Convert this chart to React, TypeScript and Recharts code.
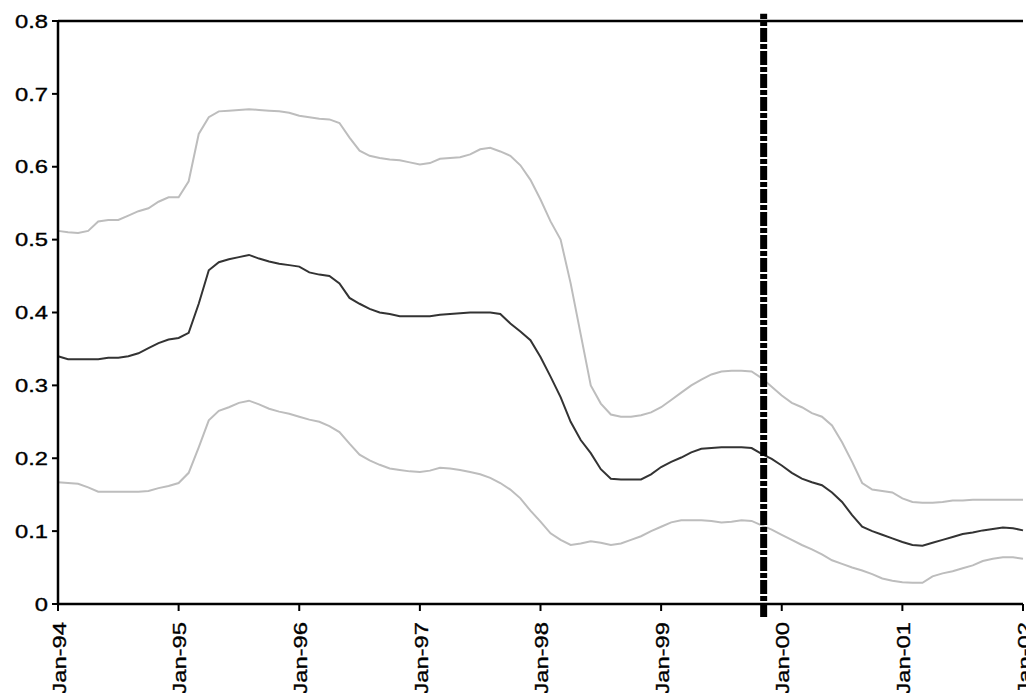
import React from 'react';
import { LineChart, Line, XAxis, YAxis, ReferenceLine } from 'recharts';

// monthly observations, Jan-94 (month 0) .. Jan-02 (month 96)
const midValues = [
  0.340, 0.336, 0.336, 0.336, 0.336, 0.338, 0.338, 0.340, 0.344, 0.351, 0.358, 0.363,
  0.365, 0.372, 0.412, 0.458, 0.469, 0.473, 0.476, 0.479, 0.474, 0.470, 0.467, 0.465,
  0.463, 0.455, 0.452, 0.450, 0.440, 0.420, 0.412, 0.405, 0.400, 0.398, 0.395, 0.395,
  0.395, 0.395, 0.397, 0.398, 0.399, 0.400, 0.400, 0.400, 0.398, 0.385, 0.374, 0.362,
  0.339, 0.312, 0.284, 0.250, 0.225, 0.207, 0.185, 0.172, 0.171, 0.171, 0.171, 0.178,
  0.188, 0.195, 0.201, 0.208, 0.213, 0.214, 0.215, 0.215, 0.215, 0.214, 0.206, 0.199,
  0.190, 0.180, 0.172, 0.167, 0.163, 0.153, 0.140, 0.122, 0.106, 0.100, 0.095, 0.090,
  0.085, 0.081, 0.080, 0.084, 0.088, 0.092, 0.096, 0.098, 0.101, 0.103, 0.105, 0.104,
  0.101,
];

const upperValues = [
  0.512, 0.510, 0.509, 0.512, 0.525, 0.527, 0.527, 0.533, 0.539, 0.543, 0.552, 0.558,
  0.558, 0.580, 0.645, 0.668, 0.676, 0.677, 0.678, 0.679, 0.678, 0.677, 0.676, 0.674,
  0.670, 0.668, 0.666, 0.665, 0.660, 0.640, 0.622, 0.615, 0.612, 0.610, 0.609, 0.606,
  0.603, 0.605, 0.611, 0.612, 0.613, 0.617, 0.624, 0.626, 0.621, 0.615, 0.602, 0.582,
  0.555, 0.525, 0.500, 0.440, 0.370, 0.300, 0.275, 0.260, 0.257, 0.257, 0.259, 0.263,
  0.270, 0.280, 0.290, 0.300, 0.308, 0.315, 0.319, 0.320, 0.320, 0.319, 0.310, 0.298,
  0.286, 0.276, 0.270, 0.262, 0.257, 0.245, 0.222, 0.195, 0.166, 0.157, 0.155, 0.153,
  0.145, 0.140, 0.139, 0.139, 0.140, 0.142, 0.142, 0.143, 0.143, 0.143, 0.143, 0.143,
  0.143,
];

const lowerValues = [
  0.167, 0.166, 0.165, 0.160, 0.154, 0.154, 0.154, 0.154, 0.154, 0.155, 0.159, 0.162,
  0.166, 0.180, 0.215, 0.252, 0.265, 0.270, 0.276, 0.279, 0.274, 0.268, 0.264, 0.261,
  0.257, 0.253, 0.250, 0.244, 0.236, 0.220, 0.205, 0.197, 0.191, 0.186, 0.184, 0.182,
  0.181, 0.183, 0.187, 0.186, 0.184, 0.181, 0.178, 0.173, 0.166, 0.157, 0.145, 0.128,
  0.113, 0.097, 0.088, 0.081, 0.083, 0.086, 0.084, 0.081, 0.083, 0.088, 0.093, 0.100,
  0.106, 0.112, 0.115, 0.115, 0.115, 0.114, 0.112, 0.113, 0.115, 0.114, 0.108, 0.102,
  0.095, 0.088, 0.081, 0.075, 0.068, 0.060, 0.055, 0.050, 0.046, 0.041, 0.035, 0.032,
  0.030, 0.029, 0.029, 0.038, 0.042, 0.045, 0.049, 0.053, 0.059, 0.062, 0.064, 0.064,
  0.062,
];

const xTicks = [0, 12, 24, 36, 48, 60, 72, 84, 96];
const xLabels = ['Jan-94', 'Jan-95', 'Jan-96', 'Jan-97', 'Jan-98', 'Jan-99', 'Jan-00', 'Jan-01', 'Jan-02'];
const yTicks = [0, 0.1, 0.2, 0.3, 0.4, 0.5, 0.6, 0.7, 0.8];
const yLabels = ['0', '0.1', '0.2', '0.3', '0.4', '0.5', '0.6', '0.7', '0.8'];
const breakMonth = 70.2; // late Nov-99

const chartData = midValues.map((v, i) => ({
  month: i,
  mid: v,
  upper: upperValues[i],
  lower: lowerValues[i],
}));

const FONT = '"Liberation Sans", Arial, sans-serif';

const YTick = (props: any) => {
  const { x, y, payload } = props;
  const idx = yTicks.indexOf(payload.value);
  return (
    <g transform={`translate(${x - 2},${y})`}>
      <text transform="scale(1.25,1)" textAnchor="end" dy="0.35em" fontSize={19} fontFamily={FONT}
        fill="#000" stroke="#000" strokeWidth={0.35}>
        {idx >= 0 ? yLabels[idx] : payload.value}
      </text>
    </g>
  );
};

const XTick = (props: any) => {
  const { x, y, payload } = props;
  const idx = xTicks.indexOf(payload.value);
  return (
    <g transform={`translate(${x + 1},${y + 9}) rotate(-90)`}>
      <text transform="scale(1.25,1)" textAnchor="end" dy="0.35em" fontSize={19} fontFamily={FONT}
        fill="#000" stroke="#000" strokeWidth={0.35}>
        {idx >= 0 ? xLabels[idx] : payload.value}
      </text>
    </g>
  );
};

export default function App() {
  return (
    <div style={{ position: 'absolute', left: 0, top: 0, width: 1026, height: 693, background: '#fff' }}>
      <LineChart width={1026} height={693} data={chartData} margin={{ top: 21, right: 3, left: 0, bottom: 0 }}>
        <XAxis
          dataKey="month"
          type="number"
          domain={[0, 96]}
          ticks={xTicks}
          interval={0}
          height={89}
          tickSize={7}
          stroke="#000"
          strokeWidth={2.5}
          tickLine={{ stroke: '#000', strokeWidth: 2 }}
          tick={<XTick />}
        />
        <YAxis
          type="number"
          domain={[0, 0.8]}
          ticks={yTicks}
          interval={0}
          width={58}
          tickSize={6}
          stroke="#000"
          strokeWidth={2.5}
          tickLine={{ stroke: '#000', strokeWidth: 2 }}
          tick={<YTick />}
          allowDataOverflow={true}
        />
        <ReferenceLine y={0.8} stroke="#000" strokeWidth={2.5} />
        <Line type="linear" dataKey="upper" stroke="#bdbdbd" strokeWidth={2} dot={false} isAnimationActive={false} />
        <Line type="linear" dataKey="lower" stroke="#bdbdbd" strokeWidth={2} dot={false} isAnimationActive={false} />
        <Line type="linear" dataKey="mid" stroke="#333333" strokeWidth={2} dot={false} isAnimationActive={false} />
        <ReferenceLine
          segment={[{ x: breakMonth, y: -0.018 }, { x: breakMonth, y: 0.81 }]}
          ifOverflow="visible"
          stroke="#000"
          strokeWidth={7}
          strokeDasharray="14 2 5 2"
        />
      </LineChart>
    </div>
  );
}
